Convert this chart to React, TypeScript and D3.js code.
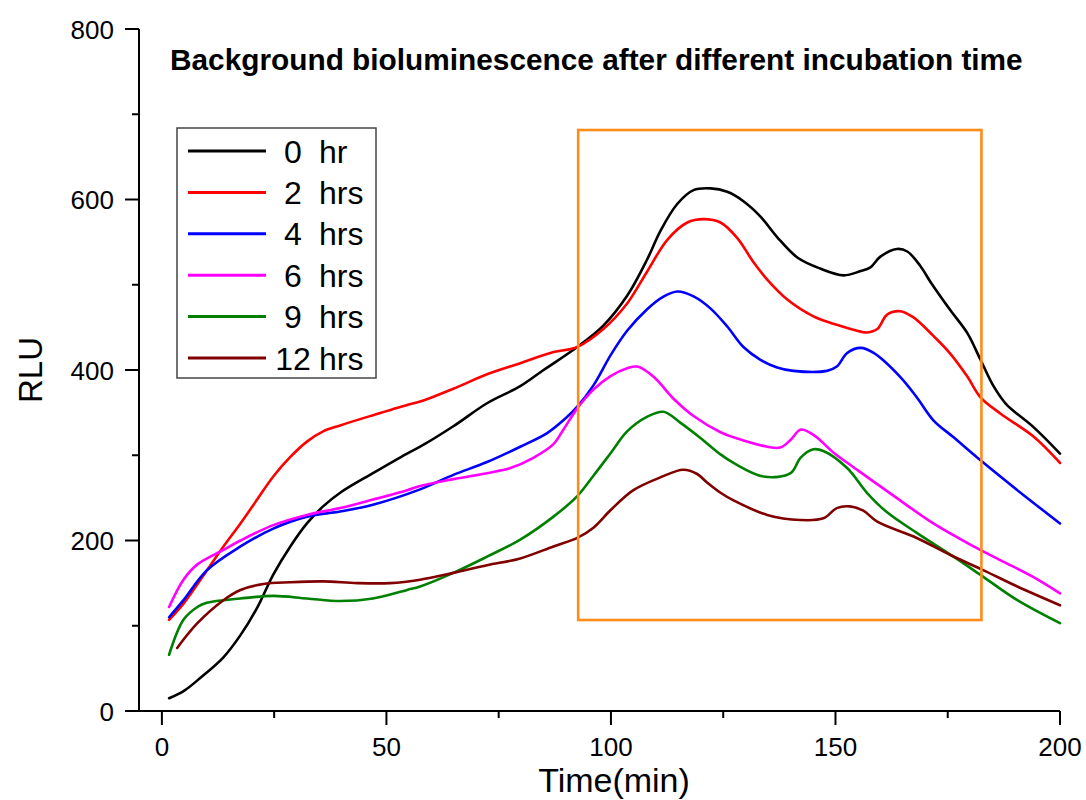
import React from "react";
import * as d3 from "d3";

// Time axis (min) and RLU readings for each incubation time
const series0hr: [number, number][] = [
  [1.6, 15], [5, 24], [8.6, 39], [13.7, 63], [17.5, 89], [21.2, 121], [24.8, 160],
  [28.6, 193], [32.3, 220], [35.9, 240], [39.7, 256], [47, 279], [54.6, 302],
  [57.5, 310], [64.9, 334], [72.4, 361], [79.8, 381], [85, 400], [92.5, 427],
  [98.3, 452], [103.6, 487], [108, 529], [111, 563], [114.8, 595], [118.4, 611],
  [122.2, 613], [125.9, 609], [129.5, 598], [133.3, 580], [137, 556], [141.5, 532],
  [146.6, 519], [151.8, 511], [155.6, 516], [157.7, 520], [160, 533], [163.7, 542],
  [166, 539], [168.9, 522], [171.2, 503], [175.6, 470], [179.4, 443], [182.3, 412],
  [185.2, 381], [188, 360], [194.1, 333], [200, 302],
];
const series2hrs: [number, number][] = [
  [1.6, 107], [4.8, 126], [8.6, 154], [13.7, 193], [17.5, 220], [21.2, 248],
  [24.8, 275], [28.6, 298], [32.3, 316], [35.9, 328], [39.7, 335], [47, 347],
  [54.6, 359], [57.5, 363], [64.9, 378], [72.4, 395], [79.8, 408], [87.2, 421],
  [92.5, 427], [98.3, 448], [103.6, 478], [108, 515], [112.6, 553], [117, 573],
  [120.6, 577], [124.4, 573], [128.1, 555], [131.8, 526], [134.8, 506], [139.2, 483],
  [145.1, 463], [150.3, 453], [155.6, 445], [157, 444], [159.3, 448], [161.5, 465],
  [164.4, 469], [167.3, 462], [171.8, 440], [175.6, 419], [179.4, 392], [182.3, 368],
  [186.7, 349], [194.1, 322], [200, 291],
];
const series4hrs: [number, number][] = [
  [1.6, 110], [4.8, 130], [10, 165], [17.5, 193], [24.8, 214], [32.3, 228],
  [39.7, 234], [47, 242], [57.5, 260], [64.9, 277], [72.4, 292], [79.8, 310],
  [85.8, 326], [89.4, 341], [92.5, 357], [96.1, 382], [100, 418], [103.6, 446],
  [108, 471], [111.7, 486], [114.8, 492], [118.5, 486], [122.2, 472], [125.9, 451],
  [129.5, 427], [133.3, 412], [137, 403], [140.6, 399], [148.1, 399], [150.3, 404],
  [152.6, 420], [155.6, 426], [158.5, 420], [164.4, 392], [168.1, 368], [171.8, 341],
  [176.3, 321], [182.3, 294], [190.5, 259], [200, 220],
];
const series6hrs: [number, number][] = [
  [1.6, 122], [4.8, 154], [7.9, 172], [13.7, 189], [17.5, 200], [24.8, 218],
  [32.3, 230], [39.7, 238], [47, 248], [54.6, 259], [57.5, 264], [64.9, 272],
  [72.4, 279], [77.6, 285], [82.7, 297], [87.2, 313], [89.4, 330], [92.5, 355],
  [96.1, 377], [100, 393], [103.6, 402], [105.9, 404], [109.5, 392], [114, 366],
  [118.4, 346], [124.4, 327], [127.3, 321], [134.8, 310], [137.7, 309],
  [140, 318], [142.2, 330], [145.1, 324], [149.6, 303], [154, 286], [158.5, 269],
  [164.4, 247], [171.8, 220], [179.4, 197], [186.7, 177], [194.1, 157], [200, 138],
];
const series9hrs: [number, number][] = [
  [1.6, 66], [4.8, 107], [7.9, 122], [10, 127], [17.5, 132], [24.8, 135],
  [32.3, 132], [39.7, 129], [47, 132], [54.6, 142], [57.5, 146], [64.9, 162],
  [72.4, 181], [79.8, 201], [87.2, 228], [92.5, 252], [96.1, 276], [100, 303],
  [103.6, 328], [108, 345], [111.7, 351], [115.5, 338], [120, 320], [124.4, 301],
  [127.3, 291], [134, 275], [140, 279], [142.2, 297], [145.1, 307], [147.3, 305],
  [152.6, 285], [157, 256], [161.5, 233], [168.1, 209], [176.3, 181], [183, 157],
  [190.5, 130], [200, 103],
];
const series12hrs: [number, number][] = [
  [3.4, 74], [7.9, 103], [13.7, 130], [17.5, 142], [22.6, 149], [28.6, 151],
  [35.9, 152], [43.5, 150], [50.8, 150], [57.5, 154], [64.9, 162], [72.4, 171],
  [79.8, 179], [87.2, 193], [92.5, 203], [96.1, 215], [100, 236], [105, 259],
  [111, 274], [116.1, 283], [119.2, 278], [121.4, 268], [124.4, 256], [127.3, 247],
  [134.8, 230], [142.2, 224], [147.3, 226], [150.3, 238], [153.2, 240], [156.2, 235],
  [159.3, 222], [168.1, 203], [175.6, 183], [183, 165], [190.5, 146], [200, 124],
];

const seriesNumbers = ["0", "2", "4", "6", "9", "12"];
const seriesUnits = ["hr", "hrs", "hrs", "hrs", "hrs", "hrs"];
const seriesColors = ["#000000", "#ff0000", "#0000ff", "#ff00ff", "#008000", "#800000"];
const allSeries = [series0hr, series2hrs, series4hrs, series6hrs, series9hrs, series12hrs];

const xMajorTicks = [0, 50, 100, 150, 200];
const xMinorTicks = [25, 75, 125, 175];
const yMajorTicks = [0, 200, 400, 600, 800];
const yMinorTicks = [100, 300, 500, 700];

// Highlighted window (time range and RLU range)
const highlightTime = [92.7, 182.5];
const highlightRLU = [106.7, 681.5];

const titleText = "Background bioluminescence after different incubation time";
const FONT = "'Liberation Sans', Arial, Helvetica, sans-serif";

export default function App() {
  const width = 1086;
  const height = 800;
  const x = d3.scaleLinear().domain([-5.1, 200]).range([139, 1060]);
  const y = d3.scaleLinear().domain([0, 800]).range([711, 29]);

  const line = d3
    .line<[number, number]>()
    .x((d) => x(d[0]))
    .y((d) => y(d[1]))
    .curve(d3.curveCatmullRom.alpha(0.5));

  const axisColor = "#000";
  const legendX = 177;
  const legendY = 128;
  const rowH = 41.4;

  return (
    <svg
      width={width}
      height={height}
      style={{ position: "absolute", left: 0, top: 0, background: "#fff" }}
      fontFamily={FONT}
    >
      <rect x={0} y={0} width={width} height={height} fill="#fff" />

      {/* data lines */}
      {allSeries.map((s, i) => (
        <path
          key={i}
          d={line(s) || ""}
          fill="none"
          stroke={seriesColors[i]}
          strokeWidth={2.6}
          strokeLinejoin="round"
          strokeLinecap="round"
        />
      ))}

      {/* highlight box */}
      <rect
        x={x(highlightTime[0])}
        y={y(highlightRLU[1])}
        width={x(highlightTime[1]) - x(highlightTime[0])}
        height={y(highlightRLU[0]) - y(highlightRLU[1])}
        fill="none"
        stroke="#ff8c1a"
        strokeWidth={2.6}
      />

      {/* axes */}
      <line x1={x.range()[0]} x2={x.range()[1]} y1={y(0)} y2={y(0)} stroke={axisColor} strokeWidth={2} />
      <line x1={x.range()[0]} x2={x.range()[0]} y1={y(0)} y2={y(800)} stroke={axisColor} strokeWidth={2} />

      {xMajorTicks.map((t) => (
        <g key={"xm" + t}>
          <line x1={x(t)} x2={x(t)} y1={y(0)} y2={y(0) + 14} stroke={axisColor} strokeWidth={2} />
          <text x={x(t)} y={y(0) + 45} textAnchor="middle" fontSize={26} fill="#000">
            {t}
          </text>
        </g>
      ))}
      {xMinorTicks.map((t) => (
        <line key={"xn" + t} x1={x(t)} x2={x(t)} y1={y(0)} y2={y(0) + 7} stroke={axisColor} strokeWidth={2} />
      ))}
      {yMajorTicks.map((v) => (
        <g key={"ym" + v}>
          <line x1={x.range()[0] - 14} x2={x.range()[0]} y1={y(v)} y2={y(v)} stroke={axisColor} strokeWidth={2} />
          <text x={x.range()[0] - 25} y={y(v) + 9.5} textAnchor="end" fontSize={26} fill="#000">
            {v}
          </text>
        </g>
      ))}
      {yMinorTicks.map((v) => (
        <line key={"yn" + v} x1={x.range()[0] - 7} x2={x.range()[0]} y1={y(v)} y2={y(v)} stroke={axisColor} strokeWidth={2} />
      ))}

      {/* axis titles */}
      <text x={614} y={792} textAnchor="middle" fontSize={34} fill="#000">
        Time(min)
      </text>
      <text transform="translate(42,370) rotate(-90)" textAnchor="middle" fontSize={33} fill="#000">
        RLU
      </text>

      {/* title */}
      <text x={170} y={70} fontSize={29.8} fontWeight="bold" fill="#000">
        {titleText}
      </text>

      {/* legend */}
      <rect x={legendX} y={legendY} width={199} height={250} fill="#fff" stroke="#444" strokeWidth={1.5} />
      {seriesNumbers.map((n, i) => {
        const cy = legendY + 23 + i * rowH;
        return (
          <g key={"lg" + i}>
            <line x1={188} x2={266} y1={cy} y2={cy} stroke={seriesColors[i]} strokeWidth={3} />
            <text x={293} y={cy + 11.5} textAnchor="middle" fontSize={32} fill="#000">
              {n}
            </text>
            <text x={319} y={cy + 11.5} fontSize={32} fill="#000">
              {seriesUnits[i]}
            </text>
          </g>
        );
      })}
    </svg>
  );
}
